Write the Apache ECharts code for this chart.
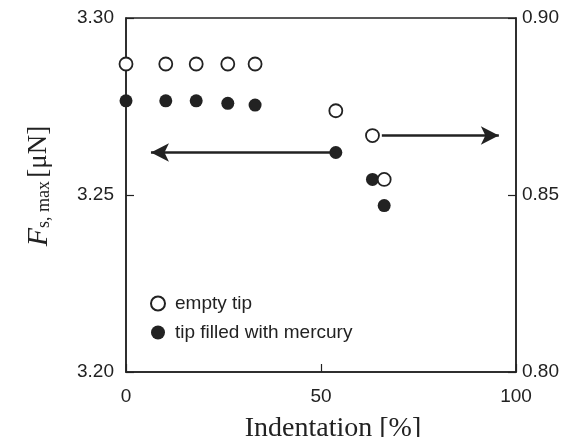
<!DOCTYPE html>
<html>
<head>
<meta charset="utf-8">
<script src="https://cdn.jsdelivr.net/npm/echarts@6/dist/echarts.min.js"></script>
<style>
  html, body { margin: 0; padding: 0; background: #fff; }
  #chart { width: 575px; height: 437px; }
</style>
</head>
<body>
<div id="chart"></div>
<script>
// indentation [%] and force values
const emptyX = [0, 10.2, 18.0, 26.1, 33.1, 53.8, 63.2, 66.2];
const emptyY = [0.8870, 0.8870, 0.8870, 0.8870, 0.8870, 0.8738, 0.8668, 0.8544]; // right axis
const filledX = [0, 10.2, 18.0, 26.1, 33.1, 53.8, 63.2, 66.2];
const filledY = [3.2766, 3.2766, 3.2766, 3.2759, 3.2754, 3.2620, 3.2544, 3.2470]; // left axis

// arrows pointing to the axis each series belongs to
const leftArrow = { from: [53.8, 3.2620], to: [6.4, 3.2620] };
const rightArrow = { from: [65.6, 0.8668], to: [95.6, 0.8668] };

const ink = '#222';
const sans = 'Liberation Sans, Arial, sans-serif';
const serif = 'Liberation Serif, Times New Roman, serif';

const chart = echarts.init(document.getElementById('chart'));

const zip = (xs, ys) => xs.map((x, i) => [x, ys[i]]);

chart.setOption({
  animation: false,
  backgroundColor: '#fff',
  grid: {
    left: 126, right: 59, top: 18, bottom: 65,
    outerBoundsMode: 'none',
    show: true, borderColor: ink, borderWidth: 1.5,
  },
  legend: {
    orient: 'vertical',
    left: 145,
    top: 289,
    itemGap: 10,
    itemWidth: 24,
    itemHeight: 14,
    textStyle: { fontFamily: sans, fontSize: 19, color: ink },
    data: ['empty tip', 'tip filled with mercury'],
  },
  xAxis: {
    type: 'value',
    min: 0,
    max: 100,
    interval: 50,
    name: 'Indentation [%]',
    nameLocation: 'middle',
    nameGap: 43,
    nameTextStyle: { fontFamily: serif, fontSize: 28, color: ink, padding: [0, 0, 0, 24] },
    axisLine: { lineStyle: { color: ink, width: 1.5 } },
    axisTick: { inside: true, length: 8, lineStyle: { color: ink, width: 1.2 } },
    axisLabel: { fontFamily: sans, fontSize: 19, color: ink, margin: 15 },
    splitLine: { show: false },
  },
  yAxis: [
    {
      type: 'value',
      min: 3.20,
      max: 3.30,
      interval: 0.05,
      name: '{f|F}{s|s, max} {u|[μN]}',
      nameLocation: 'middle',
      nameGap: 72,
      nameRotate: 90,
      nameTextStyle: {
        color: ink,
        padding: [0, 0, 0, 18],
        rich: {
          f: { fontFamily: serif, fontStyle: 'italic', fontSize: 30, color: ink },
          s: { fontFamily: serif, fontSize: 18, color: ink, padding: [10, 0, 0, 0] },
          u: { fontFamily: serif, fontSize: 27, color: ink },
        },
      },
      axisLine: { show: true, lineStyle: { color: ink, width: 1.5 } },
      axisTick: { inside: true, length: 8, lineStyle: { color: ink, width: 1.2 } },
      axisLabel: { fontFamily: sans, fontSize: 19, color: ink, margin: 12, formatter: v => v.toFixed(2) },
      splitLine: { show: false },
    },
    {
      type: 'value',
      min: 0.80,
      max: 0.90,
      interval: 0.05,
      position: 'right',
      axisLine: { show: true, lineStyle: { color: ink, width: 1.5 } },
      axisTick: { inside: true, length: 8, lineStyle: { color: ink, width: 1.2 } },
      axisLabel: { fontFamily: sans, fontSize: 19, color: ink, margin: 6, formatter: v => v.toFixed(2) },
      splitLine: { show: false },
    },
  ],
  series: [
    {
      name: 'empty tip',
      type: 'scatter',
      yAxisIndex: 1,
      symbol: 'circle',
      symbolSize: 13,
      itemStyle: { color: '#fff', borderColor: ink, borderWidth: 1.8, opacity: 1 },
      data: zip(emptyX, emptyY),
      z: 3,
      markLine: {
        silent: true,
        symbol: ['none', 'arrow'],
        symbolSize: [14, 18],
        label: { show: false },
        lineStyle: { color: ink, width: 2.5, type: 'solid' },
        data: [[{ coord: rightArrow.from }, { coord: rightArrow.to }]],
      },
    },
    {
      name: 'tip filled with mercury',
      type: 'scatter',
      yAxisIndex: 0,
      symbol: 'circle',
      symbolSize: 13,
      itemStyle: { color: ink, borderColor: ink, borderWidth: 0, opacity: 1 },
      data: zip(filledX, filledY),
      z: 2,
      markLine: {
        silent: true,
        symbol: ['none', 'arrow'],
        symbolSize: [14, 18],
        label: { show: false },
        lineStyle: { color: ink, width: 2.5, type: 'solid' },
        data: [[{ coord: leftArrow.from }, { coord: leftArrow.to }]],
      },
    },
  ],
});
</script>
</body>
</html>
